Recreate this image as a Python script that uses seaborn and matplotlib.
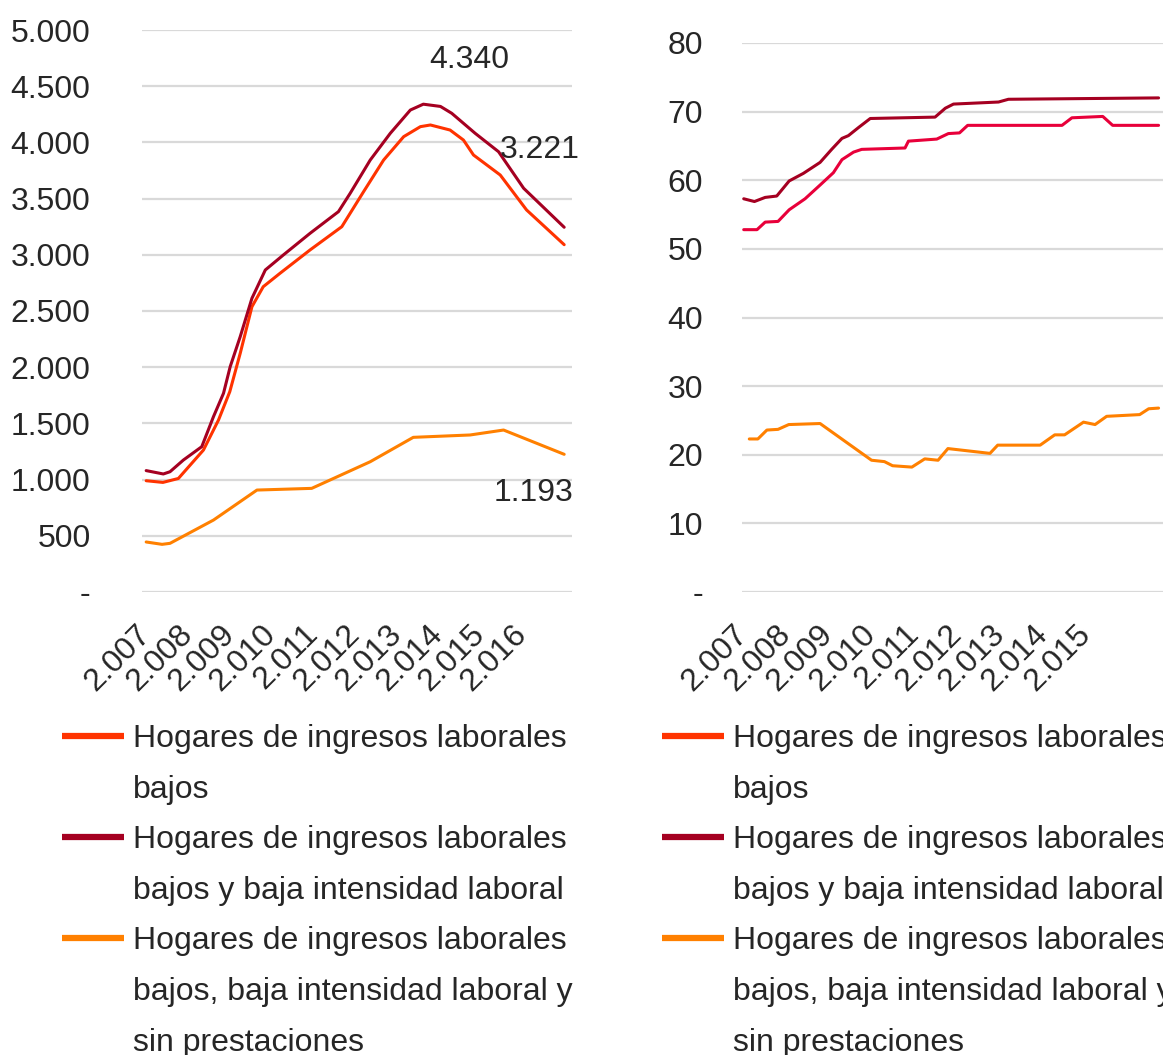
import matplotlib
matplotlib.use("Agg")
import matplotlib.pyplot as plt
from matplotlib.lines import Line2D
import seaborn as sns
import pandas as pd

# ---------------- data ----------------
# Left panel (number of households)
left_years = [2007, 2008, 2009, 2010, 2011, 2012, 2013, 2014, 2015, 2016]
left_tick_labels = ["2.007", "2.008", "2.009", "2.010", "2.011", "2.012", "2.013", "2.014", "2.015", "2.016"]

l_bajos_x = [2007.0, 2007.4, 2007.77, 2008.37, 2008.73, 2009.0, 2009.25, 2009.53, 2009.8, 2010.2,
             2010.92, 2011.68, 2012.2, 2012.68, 2013.16, 2013.56, 2013.8, 2014.27, 2014.59,
             2014.83, 2015.47, 2016.1, 2017.0]
l_bajos_y = [990, 975, 1010, 1263, 1530, 1782, 2124, 2538, 2716, 2835, 3043, 3250, 3561, 3843,
             4051, 4140, 4155, 4110, 4021, 3888, 3710, 3399, 3090]

l_baja_int_x = [2007.0, 2007.41, 2007.57, 2007.89, 2008.33, 2008.61, 2008.85, 2009.01, 2009.25,
                2009.53, 2009.85, 2010.28, 2010.92, 2011.6, 2011.88, 2012.36, 2012.84, 2013.32,
                2013.63, 2014.04, 2014.31, 2014.87, 2015.43, 2016.03, 2017.0]
l_baja_int_y = [1080, 1050, 1070, 1174, 1293, 1560, 1768, 2005, 2272, 2613, 2865, 2998, 3191,
                3384, 3547, 3843, 4081, 4288, 4340, 4320, 4259, 4081, 3917, 3592, 3245]

l_sin_prest_x = [2007.0, 2007.38, 2007.57, 2008.61, 2009.65, 2010.96, 2012.36, 2013.39, 2014.75,
                 2015.55, 2017.0]
l_sin_prest_y = [445, 424, 433, 640, 907, 922, 1159, 1376, 1397, 1441, 1225]

left_labels = [("4.340", 2014.73, 4735, "center"), ("3.221", 2015.47, 3932, "left"),
               ("1.193", 2016.26, 880, "center")]

# Right panel (percentages)
right_years = [2007, 2008, 2009, 2010, 2011, 2012, 2013, 2014, 2015]
right_tick_labels = ["2.007", "2.008", "2.009", "2.010", "2.011", "2.012", "2.013", "2.014", "2.015"]

r_bajos_x = [2007.02, 2007.33, 2007.52, 2007.82, 2008.08, 2008.45, 2008.8, 2009.11, 2009.31,
             2009.58, 2009.77, 2010.78, 2010.86, 2011.52, 2011.79, 2012.05, 2012.24, 2014.44,
             2014.67, 2015.39, 2015.62, 2016.69]
r_bajos_y = [52.8, 52.8, 53.9, 54.0, 55.7, 57.3, 59.3, 61.1, 63.0, 64.1, 64.5, 64.7, 65.7, 66.0,
             66.8, 66.9, 68.0, 68.0, 69.1, 69.3, 68.0, 68.0]

r_baja_int_x = [2007.02, 2007.27, 2007.52, 2007.79, 2008.08, 2008.41, 2008.8, 2009.07, 2009.31,
                2009.46, 2009.7, 2009.97, 2011.48, 2011.72, 2011.91, 2012.96, 2013.19, 2016.69]
r_baja_int_y = [57.3, 56.9, 57.5, 57.7, 59.9, 61.0, 62.6, 64.5, 66.1, 66.5, 67.7, 69.0, 69.2,
                70.5, 71.1, 71.4, 71.8, 72.0]

r_sin_prest_x = [2007.15, 2007.35, 2007.56, 2007.82, 2008.07, 2008.8, 2010.0, 2010.3, 2010.49,
                 2010.94, 2011.24, 2011.55, 2011.78, 2012.76, 2012.94, 2013.93, 2014.27, 2014.5,
                 2014.94, 2015.21, 2015.48, 2016.25, 2016.46, 2016.69]
r_sin_prest_y = [22.3, 22.3, 23.6, 23.7, 24.4, 24.55, 19.2, 19.0, 18.4, 18.2, 19.4, 19.2, 20.9,
                 20.2, 21.4, 21.4, 22.9, 22.9, 24.75, 24.4, 25.6, 25.85, 26.7, 26.8]

legend_lines = [["Hogares de ingresos laborales", "bajos"],
                ["Hogares de ingresos laborales", "bajos y baja intensidad laboral"],
                ["Hogares de ingresos laborales", "bajos, baja intensidad laboral y", "sin prestaciones"]]

# ---------------- style ----------------
sns.set_theme(style="white")
plt.rcParams["font.family"] = ["Liberation Sans", "DejaVu Sans"]
TXT = "#262626"
GRID = "#D9D9D9"
C_BAJOS = "#FF3300"
C_BAJOS_R = "#E8003A"
C_INT = "#A50021"
C_SIN = "#FF8000"
FS = 23
LW = 2.2

W, H = 1163, 1055
fig = plt.figure(figsize=(W / 100, H / 100), dpi=100)
ax1 = fig.add_axes([142 / W, 1 - 592 / H, 430 / W, 562 / H])
ax2 = fig.add_axes([742 / W, 1 - 592 / H, 421 / W, 549 / H])


def fmt_thousands(v):
    if v == 0:
        return "-"
    return f"{int(v):,}".replace(",", ".")


def draw(ax, xs, ys, color):
    df = pd.DataFrame({"x": xs, "y": ys})
    sns.lineplot(data=df, x="x", y="y", ax=ax, color=color, lw=LW, estimator=None, sort=False)


# Left panel
draw(ax1, l_bajos_x, l_bajos_y, C_BAJOS)
draw(ax1, l_baja_int_x, l_baja_int_y, C_INT)
draw(ax1, l_sin_prest_x, l_sin_prest_y, C_SIN)
ax1.set_ylim(0, 5000)
ax1.set_xlim(2006.9, 2006.9 + 430 / 41.8)
yt = list(range(0, 5001, 500))
ax1.set_yticks(yt)
ax1.set_yticklabels([fmt_thousands(v) for v in yt])
ax1.set_xticks(left_years)
ax1.set_xticklabels(left_tick_labels)
for txt, x, y, ha in left_labels:
    ax1.text(x, y, txt, ha=ha, va="center", fontsize=FS, color=TXT, clip_on=False)

# Right panel
draw(ax2, r_bajos_x, r_bajos_y, C_BAJOS_R)
draw(ax2, r_baja_int_x, r_baja_int_y, C_INT)
draw(ax2, r_sin_prest_x, r_sin_prest_y, C_SIN)
ax2.set_ylim(0, 80)
ax2.set_xlim(2006.98, 2006.98 + 421 / 42.9)
yt2 = list(range(0, 81, 10))
ax2.set_yticks(yt2)
ax2.set_yticklabels([fmt_thousands(v) for v in yt2])
ax2.set_xticks(right_years)
ax2.set_xticklabels(right_tick_labels)

for ax, ypad in ((ax1, 37), (ax2, 28)):
    ax.set_xlabel("")
    ax.set_ylabel("")
    for s in ax.spines.values():
        s.set_visible(False)
    ax.yaxis.grid(True, color=GRID, lw=1.6)
    ax.xaxis.grid(False)
    ax.set_axisbelow(True)
    ax.tick_params(axis="y", length=0, pad=ypad, labelsize=FS, labelcolor=TXT)
    ax.tick_params(axis="x", length=0, pad=27, labelsize=FS, labelcolor=TXT)
    for lab in ax.get_xticklabels():
        lab.set_rotation(45)
        lab.set_ha("right")
        lab.set_va("center")
        lab.set_rotation_mode("anchor")
    if ax.get_legend():
        ax.get_legend().remove()


def make_legend(x_px, colors):
    handles, labels = [], []
    for col, lines in zip(colors, legend_lines):
        for i, t in enumerate(lines):
            handles.append(Line2D([], [], color=col if i == 0 else "none", lw=4.5, solid_capstyle="butt"))
            labels.append(t)
    fig.legend(handles, labels, loc="upper left", bbox_to_anchor=(x_px / W, 1 - 724 / H),
               frameon=False, fontsize=FS, labelcolor=TXT, borderpad=0, borderaxespad=0,
               handlelength=1.95, handletextpad=0.27, labelspacing=0.645)


make_legend(62, [C_BAJOS, C_INT, C_SIN])
make_legend(662, [C_BAJOS, C_INT, C_SIN])

fig.savefig("out.png", dpi=100)
